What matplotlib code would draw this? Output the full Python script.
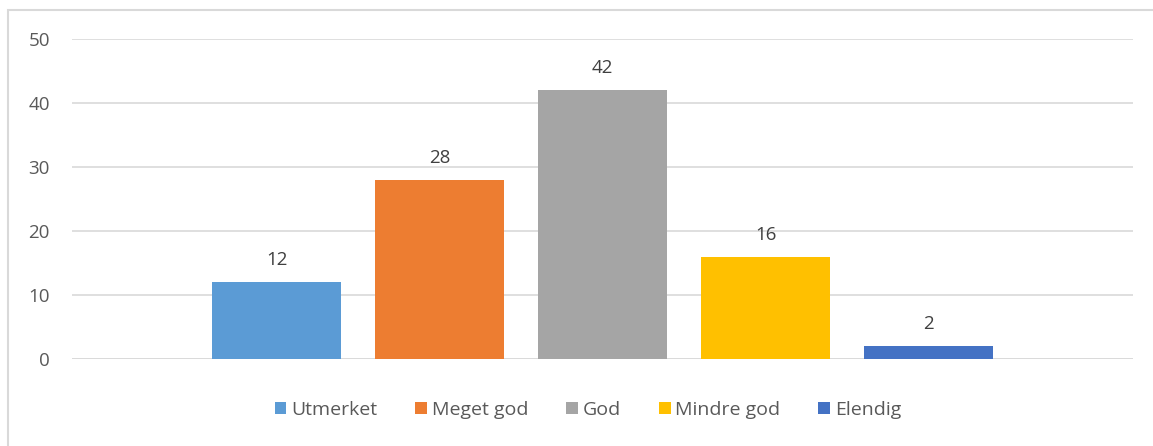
import matplotlib.pyplot as plt
from matplotlib.patches import Rectangle

# data
series = ['Utmerket', 'Meget god', 'God', 'Mindre god', 'Elendig']
values = [12, 28, 42, 16, 2]
colors = ['#5B9BD5', '#ED7D31', '#A5A5A5', '#FFC000', '#4472C4']
yticks = [0, 10, 20, 30, 40, 50]

plt.rcParams['font.family'] = ['Open Sans', 'DejaVu Sans']

W, H = 1153, 446
fig = plt.figure(figsize=(W / 100, H / 100), dpi=100)
ax = fig.add_axes([72 / W, (H - 359) / H, (1133 - 72) / W, 320 / H])

# clustered bars in a single category
width = 129 / 1061
step = 163 / 1061
n = len(series)
for i, (name, v, c) in enumerate(zip(series, values, colors)):
    x = (i - (n - 1) / 2) * step
    ax.bar(x, v, width=width, color=c, label=name, zorder=3)
    ax.text(x, v + 2.0, str(v), ha='center', va='bottom', fontsize=13.5, color='#404040')

ax.set_xlim(-0.5, 0.5)
ax.set_ylim(0, 50)
ax.set_yticks(yticks)
ax.set_xticks([])
ax.grid(axis='y', color='#D9D9D9', linewidth=1.2, zorder=0)
for s in ax.spines.values():
    s.set_visible(False)
ax.axhline(0, color='#D9D9D9', linewidth=1.2, zorder=2)
ax.tick_params(axis='y', length=0, pad=16, labelsize=13.5, labelcolor='#595959')

leg = fig.legend(loc='center', bbox_to_anchor=(588 / W, (H - 410) / H), ncol=5,
                 frameon=False, fontsize=14, handlelength=0.6, handleheight=0.6,
                 handletextpad=0.25, columnspacing=1.95)
for t in leg.get_texts():
    t.set_color('#595959')

# chart border
fig.add_artist(Rectangle((8 / W, -0.1), 1.2, (H - 10) / H + 0.1,
                         transform=fig.transFigure, fill=False,
                         edgecolor='#D9D9D9', linewidth=1.5))

fig.savefig('out.png', dpi=100, facecolor='white')
